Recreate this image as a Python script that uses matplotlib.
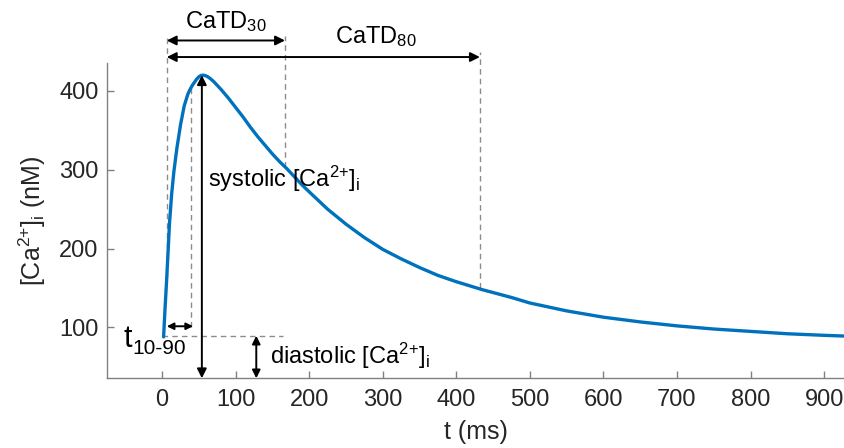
import numpy as np
import matplotlib.pyplot as plt

plt.rcParams['font.family'] = ['Liberation Sans', 'DejaVu Sans']
plt.rcParams['mathtext.default'] = 'regular'

# calcium transient
t_ms = [2, 4, 6, 8, 10, 13, 16, 20, 25, 30, 35, 38, 41, 44, 47, 50, 53, 56,
        59, 62, 65, 70, 75, 80, 90, 100, 110, 120, 130, 140, 150, 160, 170,
        180, 190, 200, 225, 250, 275, 300, 325, 350, 375, 400, 435, 475, 500,
        550, 600, 650, 700, 750, 800, 850, 900, 930]
ca_nM = [88, 125, 158, 195, 232, 270, 298, 327, 357, 381, 396, 402, 407, 411,
         415, 418, 419.7, 420, 419.3, 418, 416, 412, 407, 402, 391, 379, 367,
         354, 342, 331, 320, 310, 301, 291, 281, 272, 250, 231, 214, 199, 187,
         176, 166, 158, 148, 138, 131, 121, 113, 107, 102, 98, 95, 92, 90, 89]

# marker times / levels
t_start = 6.3
t_90 = 39
t_catd30 = 167
t_catd80 = 432
t_peak = 54
t_dia = 128
ca_peak = 420
ca_dia = 89.5
ca_start = 164
ca_90 = 404

BLUE = '#0072BD'
GRAY = '#8c8c8c'
TXT = '#262626'

fig = plt.figure(figsize=(8.45, 4.48), dpi=100)
ax = fig.add_axes([0.1266, 0.1556, 0.873, 0.703])

ax.plot(t_ms, ca_nM, color=BLUE, lw=2.4, zorder=3,
        solid_joinstyle='round', solid_capstyle='round')

ax.set_xlim(-75, 928)
ax.set_ylim(35.5, 435)
ax.set_xticks(range(0, 1000, 100))
ax.set_yticks([100, 200, 300, 400])

for s in ['top', 'right']:
    ax.spines[s].set_visible(False)
for s in ['left', 'bottom']:
    ax.spines[s].set_color('#808080')
    ax.spines[s].set_linewidth(1.0)
ax.tick_params(direction='in', length=5, width=1, color='#808080',
               labelsize=17, labelcolor=TXT)
ax.tick_params(axis='y', pad=6)
ax.tick_params(axis='x', pad=8)

ax.set_xlabel('t (ms)', fontsize=18, color=TXT, labelpad=6)
ax.set_ylabel('[Ca$^{2{+}}$]$_i$ (nM)', fontsize=18, color=TXT, labelpad=8)

dash = dict(color=GRAY, lw=1, ls=(0, (4, 3)), clip_on=False, zorder=2)
ax.plot([t_start, t_start], [ca_start, 470], **dash)
ax.plot([t_90, t_90], [101, ca_90], **dash)
ax.plot([t_catd30, t_catd30], [303, 470], **dash)
ax.plot([t_catd80, t_catd80], [150, 450], **dash)
ax.plot([0, 164], [ca_dia, ca_dia], **dash)

arr = dict(arrowstyle='<|-|>', color='k', lw=1.4, mutation_scale=14,
           shrinkA=0, shrinkB=0)


def darrow(x0, y0, x1, y1, ms=14):
    a = dict(arr)
    a['mutation_scale'] = ms
    ax.annotate('', xy=(x1, y1), xytext=(x0, y0), arrowprops=a,
                annotation_clip=False, zorder=4)


darrow(t_start, 464, t_catd30, 464)
darrow(t_start, 443, t_catd80, 443)
darrow(t_start, 101.5, t_90 + 3, 101.5, ms=10)
darrow(t_peak, 35.5, t_peak, ca_peak)
darrow(t_dia, 35.5, t_dia, ca_dia, ms=12)

ax.text(86, 488, 'CaTD$_{30}$', fontsize=17, ha='center', va='center',
        clip_on=False)
ax.text(290, 469, 'CaTD$_{80}$', fontsize=17, ha='center', va='center',
        clip_on=False)
ax.text(62, 289, 'systolic [Ca$^{2{+}}$]$_i$', fontsize=17, ha='left',
        va='center')
ax.text(147, 64, 'diastolic [Ca$^{2{+}}$]$_i$', fontsize=17, ha='left',
        va='center')
ax.text(-52, 85, 't', fontsize=22, ha='left', va='center')
ax.text(-40, 73, '10-90', fontsize=15, ha='left', va='center')

fig.savefig('out.png', dpi=100)
